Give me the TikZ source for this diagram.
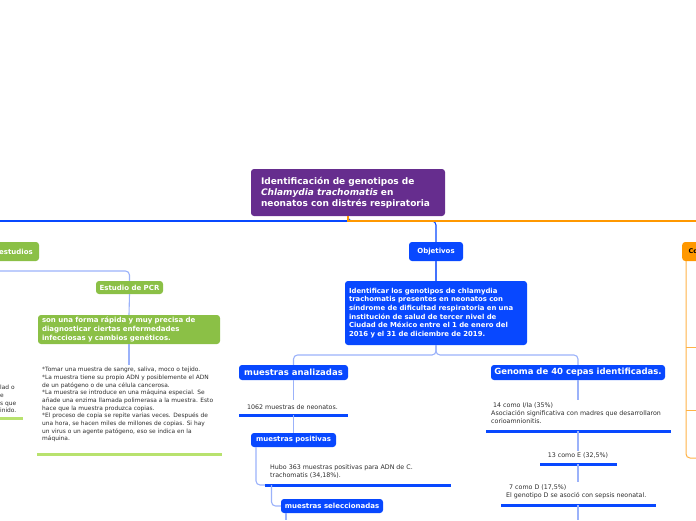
\documentclass[tikz,border=0pt]{standalone}
\usepackage{fontspec}
\setmainfont{DejaVu Sans}
\definecolor{mmpurple}{RGB}{102,45,142}
\definecolor{mmgreen}{RGB}{139,192,70}
\definecolor{mmlgreen}{RGB}{184,226,110}
\definecolor{mmblue}{RGB}{8,72,255}
\definecolor{mmlblue}{RGB}{155,178,250}
\definecolor{mmorange}{RGB}{255,152,0}
\definecolor{mmlorange}{RGB}{255,178,70}
\definecolor{mmtext}{RGB}{45,45,45}
\begin{document}
\begin{tikzpicture}[x=1pt,y=-1pt,
  box/.style={rounded corners=3pt, text=white, inner sep=0pt, align=center},
  lbl/.style={inner sep=0pt, text=mmtext, align=left},
  lconn/.style={draw=mmlblue, line width=1.1pt, rounded corners=4pt},
  bconn/.style={draw=mmblue, line width=1.1pt, rounded corners=4pt},
  oconn/.style={draw=mmlorange, line width=1pt, rounded corners=4pt},
  bline/.style={draw=mmblue, line width=3pt},
  gline/.style={draw=mmlgreen, line width=3pt},
  fs/.style={font=\fontsize{7}{8.6}\selectfont\bfseries},
  fm/.style={font=\fontsize{8.5}{11}\selectfont\bfseries},
  ft/.style={font=\fontsize{6.3}{8}\selectfont}
]
\useasboundingbox (0,0) rectangle (696,520);
\clip (0,0) rectangle (696,520);

% top level
\node[box, fill=mmpurple, minimum width=194pt, minimum height=47pt, text width=174pt, align=left, font=\fontsize{9}{11}\selectfont\bfseries] (title) at (348,192.5)
  {Identificación de genotipos de\\ \textit{Chlamydia trachomatis} en\\ neonatos con distrés respiratoria};

\node[box, fill=mmgreen, minimum width=46pt, minimum height=19pt, fs] (estudios) at (16,251.5) {estudios};
\node[box, fill=mmblue, minimum width=54pt, minimum height=19pt, fs] (obj) at (436,251.5) {Objetivos};
\node[box, fill=mmorange, minimum width=46pt, minimum height=19pt, anchor=west, font=\fontsize{6.5}{8}\selectfont\bfseries, text=black, text width=40pt, align=left] (co) at (682,251.5) {\hspace{3.5pt}Co};

\coordinate (lend) at (0,221);
\coordinate (rend) at (696,221);
\draw[bconn, rounded corners=0pt] (title.south) |- (lend);
\draw[bconn] (title.south) |- (400,221) -| (obj.north);
\draw[draw=mmorange, line width=1.1pt] (title.south) |- (rend);

% estudios branch
\node[box, fill=mmgreen, minimum width=67pt, minimum height=13pt, fs] (pcr) at (129.5,287.5) {Estudio de PCR};
\node[box, fill=mmgreen, minimum width=182pt, minimum height=29pt, text width=174pt, align=left, fs] (sonuna) at (129,329.5)
  {son una forma rápida y muy precisa de\\ diagnosticar ciertas enfermedades\\ infecciosas y cambios genéticos.};
\coordinate (pcrin) at (0,271);
\draw[lconn] (pcrin) -| (pcr.north);
\draw[lconn] (pcr.south) -- (sonuna.north);
\node[lbl, anchor=north west, font=\fontsize{5.9}{7.7}\selectfont] (pcrtext) at (42,367)
  {*Tomar una muestra de sangre, saliva, moco o tejido.\\
   *La muestra tiene su propio ADN y posiblemente el ADN\\
   de un patógeno o de una célula cancerosa.\\
   *La muestra se introduce en una máquina especial. Se\\
   añade una enzima llamada polimerasa a la muestra. Esto\\
   hace que la muestra produzca copias.\\
   *El proceso de copia se repite varias veces. Después de\\
   una hora, se hacen miles de millones de copias. Si hay\\
   un virus o un agente patógeno, eso se indica en la\\
   máquina.};
\draw[lconn] (sonuna.south) -- (129,365);
\draw[gline] (37,454) -- (222,454);

\node[lbl, anchor=north west, font=\fontsize{5.9}{7.7}\selectfont] (lefttext) at (0,385)
  {lad o\\ e\\ s que\\ inido.};
\draw[gline] (0,418) -- (23,418);

% objetivos branch
\node[box, fill=mmblue, minimum width=182pt, minimum height=64pt, text width=174pt, align=left, font=\fontsize{6.9}{8.6}\selectfont\bfseries] (ident) at (436,313)
  {Identificar los genotipos de chlamydia\\ trachomatis presentes en neonatos con\\ síndrome de dificultad respiratoria en una\\ institución de salud de tercer nivel de\\ Ciudad de México entre el 1 de enero del\\ 2016 y el 31 de diciembre de 2019.};
\draw[draw=mmblue!60!mmlblue, line width=1.1pt] (obj.south) -- (ident.north);

\node[box, fill=mmblue, minimum width=109pt, minimum height=15pt, fm] (anal) at (293.5,372.5) {muestras analizadas};
\node[box, fill=mmblue, minimum width=174pt, minimum height=15pt, fm] (genoma) at (578,372.5) {Genoma de 40 cepas identificadas.};
\draw[lconn] (ident.south) |- (360,355) -| (anal.north);
\draw[lconn] (ident.south) |- (520,355) -| (genoma.north);

% muestras analizadas
\node[lbl, anchor=west, ft] (t1062) at (247,407) {1062 muestras de neonatos.};
\draw[lconn] (anal.south) -- (293.5,400);
\draw[bline] (239,415) -- (348,415);
\node[box, fill=mmblue, minimum width=85pt, minimum height=14pt, fs] (pos) at (293.5,440) {muestras positivas};
\draw[lconn] (293.5,415) -- (pos.north);
\node[lbl, anchor=north west, ft] (thubo) at (270,465)
  {Hubo 363 muestras positivas para ADN de C.\\ trachomatis (34,18\%).};
\draw[lconn] (256,447) |- (266,485);
\draw[bline] (265,485) -- (451,485);
\node[box, fill=mmblue, minimum width=102pt, minimum height=14pt, fs] (sel) at (332,506) {muestras seleccionadas};
\draw[lconn] (271.5,485) |- (sel.west);
\draw[lconn] (286,513) -- (286,520);

% genoma
\draw[lconn] (genoma.south) -- (578,400);
\node[lbl, anchor=north west, ft] (t14) at (491,403)
  {\hspace{2pt}14 como I/Ia (35\%)\\ Asociación significativa con madres que desarrollaron\\ corioamnionitis.};
\draw[bline] (486,431) -- (671,431);
\draw[lconn] (578,431) -- (578,451);
\node[lbl, anchor=center, ft] (t13) at (578,456) {13 como E (32,5\%)};
\draw[bline] (540,464) -- (617,464);
\draw[lconn] (578,464) -- (578,482);
\node[lbl, anchor=north west, ft] (t7) at (506,485)
  {\hspace{3pt}7 como D (17,5\%)\\ El genotipo D se asoció con sepsis neonatal.};
\draw[bline] (501,505) -- (656,505);
\draw[lconn] (578,505) -- (578,520);

% conclusiones
\draw[oconn] (686,261) |- (696,458);
\draw[oconn] (686,347) -- (696,347);
\draw[oconn] (686,410) -- (696,410);
\end{tikzpicture}
\end{document}
